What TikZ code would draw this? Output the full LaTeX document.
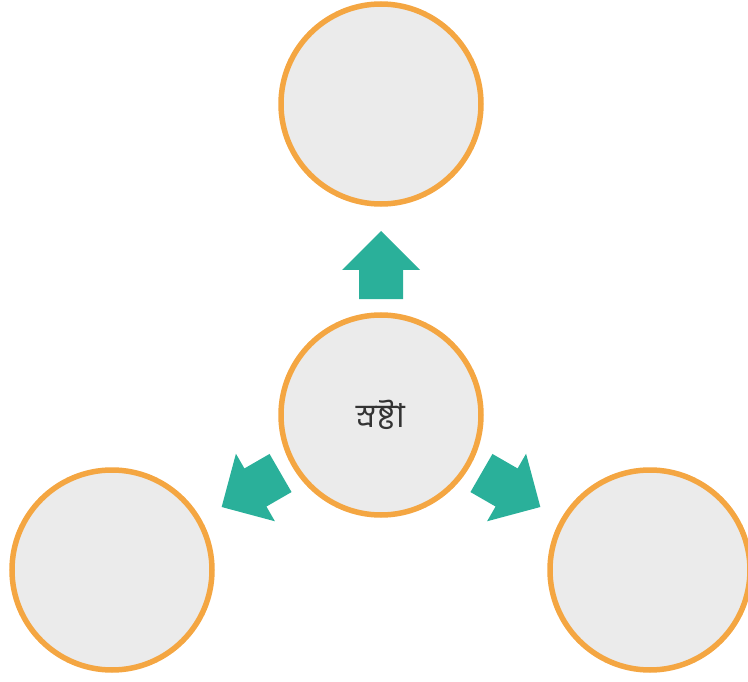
\documentclass[tikz,border=0pt]{standalone}
\usepackage{fontspec}
\newfontfamily\bnfont[Script=Bengali]{Hind Siliguri}
\definecolor{ringc}{RGB}{244,166,66}
\definecolor{fillc}{RGB}{235,235,235}
\definecolor{arrc}{RGB}{42,176,154}
\definecolor{txtc}{RGB}{51,51,51}
\tikzset{
  bubble/.style={circle, draw=ringc, fill=fillc, line width=5.5pt, minimum size=200pt, inner sep=0pt},
  blockarrow/.style={fill=arrc, draw=none}
}
\begin{document}
\begin{tikzpicture}[x=1pt,y=-1pt]
\useasboundingbox (0,0) rectangle (748,682);
\node[bubble] (c) at (381,415) {\bnfont\fontsize{33}{36}\selectfont\color{txtc}স্রষ্টা};
\node[bubble] (t) at (381,104) {};
\node[bubble] (l) at (112,570) {};
\node[bubble] (r) at (650,570) {};
\foreach \ang in {90,-150,-30}{
  \begin{scope}[shift={(c.center)}, rotate=\ang]
    \fill[blockarrow] (116,-22) -- (145,-22) -- (145,-39) -- (184,0) -- (145,39) -- (145,22) -- (116,22) -- cycle;
  \end{scope}
}
\end{tikzpicture}
\end{document}
